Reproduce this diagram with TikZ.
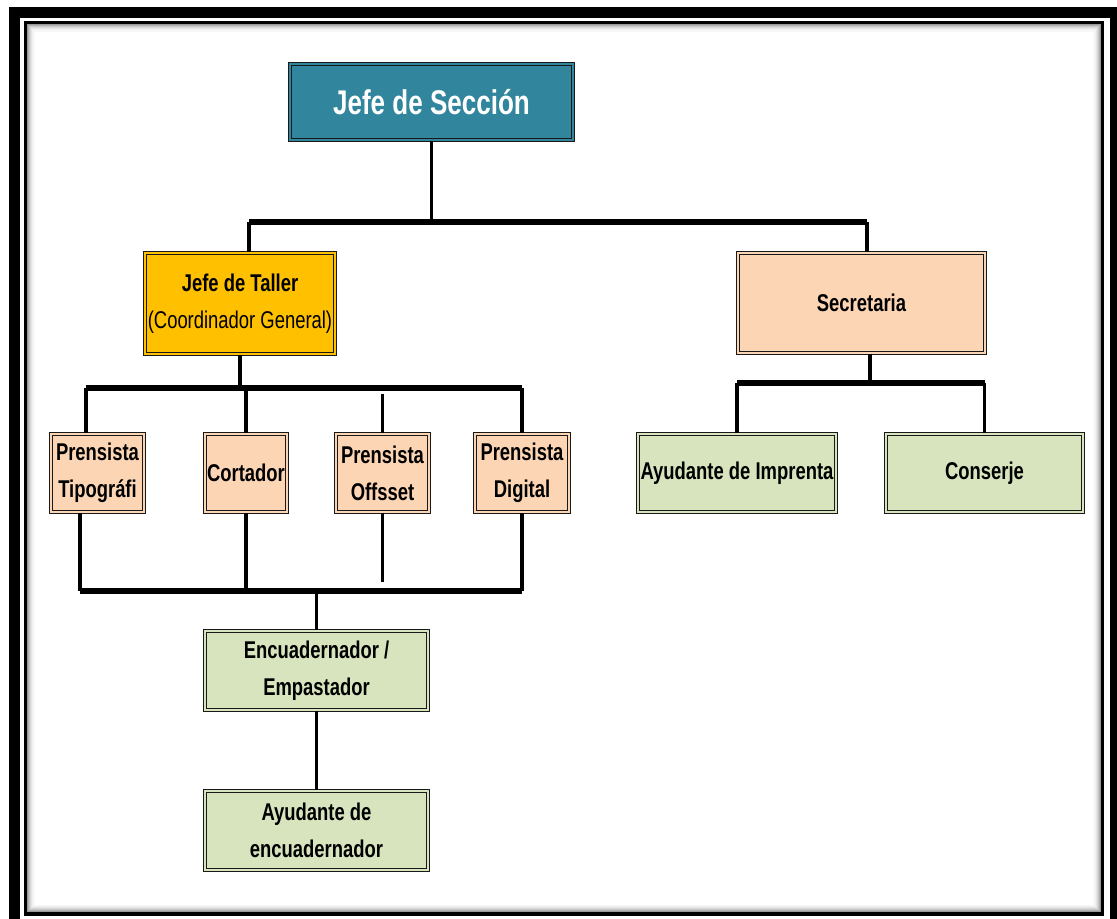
\documentclass[tikz,border=0pt]{standalone}
\usepackage{fontspec}
\setmainfont[FakeStretch=0.76]{Liberation Sans}
\usetikzlibrary{positioning}
\definecolor{tealhead}{HTML}{31859C}
\definecolor{goldbox}{HTML}{FFC000}
\definecolor{peachbox}{HTML}{FCD5B5}
\definecolor{greenbox}{HTML}{D7E4BD}

\begin{document}
\begin{tikzpicture}[x=0.02cm,y=-0.02cm,
	box/.style={draw=black!90, line width=0.65pt, double distance=1.4pt,
		inner sep=0pt, align=center, font=\bfseries\fontsize{13.8}{21}\selectfont},
	headbox/.style={box, fill=tealhead, double=tealhead, text=white,
		font=\bfseries\fontsize{19.5}{24}\selectfont},
	goldbox/.style={box, fill=goldbox, double=goldbox},
	peachbox/.style={box, fill=peachbox, double=peachbox},
	greenbox/.style={box, fill=greenbox, double=greenbox},
	conn/.style={line width=2pt},
	bus/.style={line width=3pt, line cap=square}
	]
	\useasboundingbox (0,0) rectangle (1117,919);
	%Frame
	\draw[line width=0.22cm] (14.5,12.5) rectangle (1115.5,930);
	\draw[line width=0.07cm] (25.5,22.5) rectangle (1102.5,914);
	\foreach \i/\g in {2.5/40,3.5/30,4.5/22,5.5/15,6.5/10,7.5/6,8.5/3}
		\draw[black!\g, line width=0.022cm] (25.5+\i,22.5+\i) rectangle (1102.5-\i,914-\i);
	%Nodes
	\node[headbox, minimum width=5.66cm, minimum height=1.52cm] (sec) at (431.5,102) {Jefe de Sección};
	\node[goldbox, minimum width=3.80cm, minimum height=2.02cm] (taller) at (240,303.5)
		{Jefe de Taller\\{\mdseries (Coordinador General)}};
	\node[peachbox, minimum width=4.94cm, minimum height=2.00cm] (secre) at (861.5,303) {Secretaria};
	\node[peachbox, minimum width=1.86cm, minimum height=1.56cm] (tipo) at (97.5,473) {Prensista\\Tipográfi};
	\node[peachbox, minimum width=1.64cm, minimum height=1.56cm] (cort) at (246,473) {Cortador};
	\node[peachbox, minimum width=1.86cm, minimum height=1.56cm] (offs) at (382.5,473) {Prensista\\Offsset};
	\node[peachbox, minimum width=1.88cm, minimum height=1.56cm] (digi) at (522,473) {Prensista\\Digital};
	\node[greenbox, minimum width=3.96cm, minimum height=1.56cm] (ayimp) at (737,473) {Ayudante de Imprenta};
	\node[greenbox, minimum width=3.94cm, minimum height=1.56cm] (conse) at (984.5,473) {Conserje};
	\node[greenbox, minimum width=4.46cm, minimum height=1.58cm] (encu) at (316.5,670.5) {Encuadernador /\\Empastador};
	\node[greenbox, minimum width=4.46cm, minimum height=1.58cm] (ayenc) at (316.5,830.5) {Ayudante de\\encuadernador};
	%Buses
	\coordinate (busA) at (429,222);
	\coordinate (busB) at (244,388);
	\coordinate (busC) at (317,591);
	\coordinate (busD) at (870,383);
	\path ([xshift=0.18cm]taller.north) coordinate (tallerTop)
		([xshift=0.11cm]secre.north) coordinate (secreTop)
		([xshift=0.17cm]secre.south) coordinate (secreBot)
		([xshift=-0.23cm]tipo.north) coordinate (tipoTop)
		([xshift=-0.35cm]tipo.south) coordinate (tipoBot);
	%First level
	\draw[conn] (sec.south) -- (sec.south |- busA);
	\draw[bus] (tallerTop |- busA) -- (secreTop |- busA);
	\foreach \n in {tallerTop, secreTop}
		\draw[conn] (\n |- busA) -- (\n);
	%Workshop
	\draw[conn] (taller.south) -- (taller.south |- busB);
	\draw[bus] (tipoTop |- busB) -- (digi.north |- busB);
	\foreach \n in {tipoTop, cort.north, digi.north}
		\draw[conn] (\n |- busB) -- (\n);
	\draw[conn] (offs.north) -- ++(0,-39);
	%Binding
	\draw[bus] (tipoBot |- busC) -- (digi.south |- busC);
	\foreach \n in {tipoBot, cort.south, digi.south}
		\draw[conn] (\n) -- (\n |- busC);
	\draw[conn] (offs.south) -- ++(0,69);
	\draw[conn] (encu.north |- busC) -- (encu.north);
	\draw[conn] (encu.south) -- (ayenc.north);
	%Secretary
	\draw[conn] (secreBot) -- (secreBot |- busD);
	\draw[bus] (ayimp.north |- busD) -- (conse.north |- busD);
	\foreach \n in {ayimp.north, conse.north}
		\draw[conn] (\n |- busD) -- (\n);
\end{tikzpicture}
\end{document}
